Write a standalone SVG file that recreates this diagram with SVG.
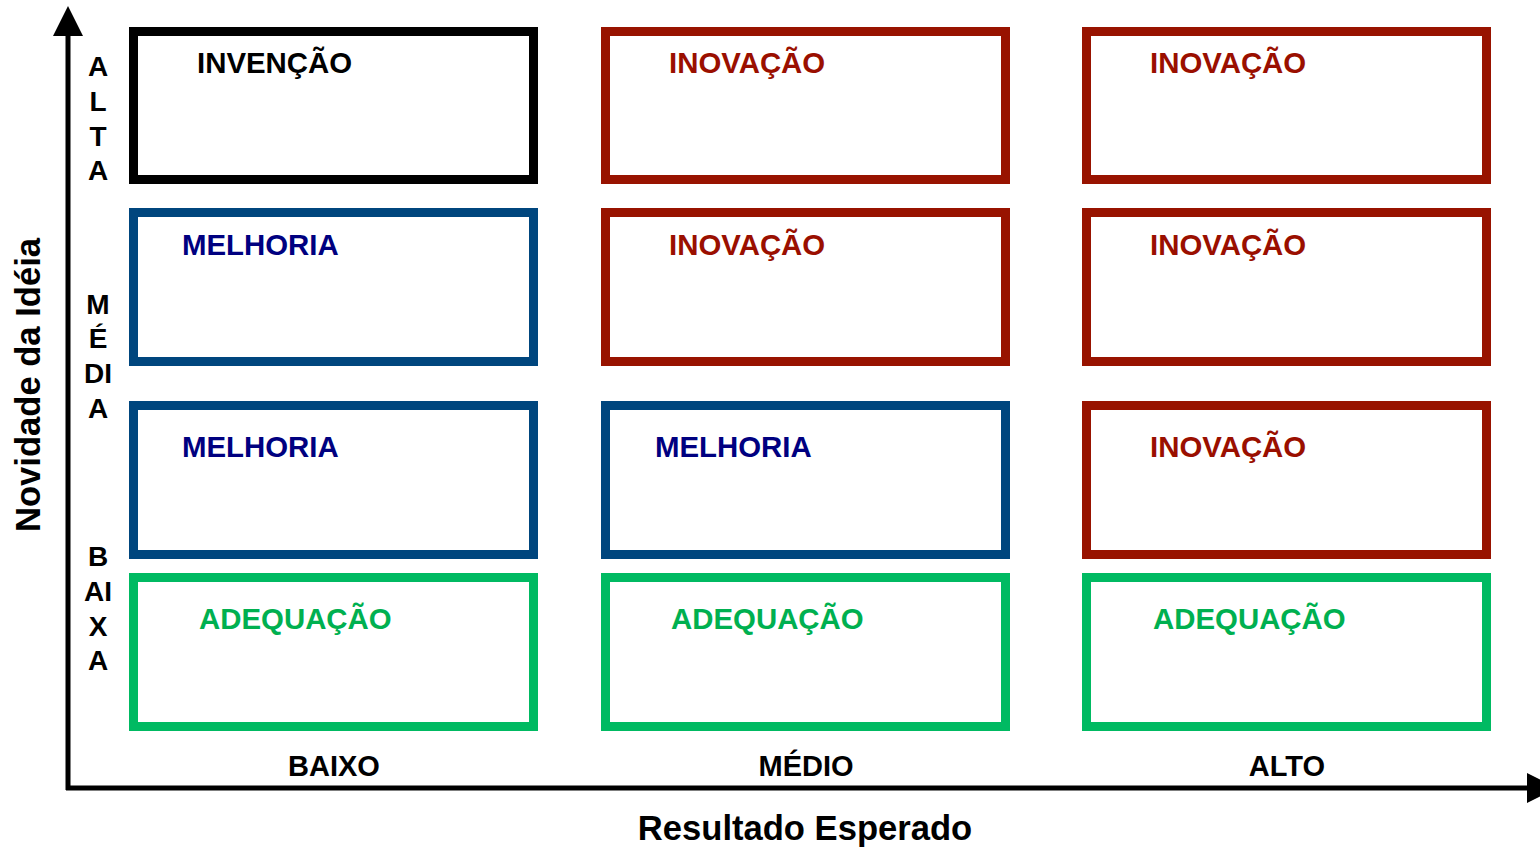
<svg xmlns="http://www.w3.org/2000/svg" width="1540" height="847" viewBox="0 0 1540 847">
<style>
text{font-family:"Liberation Sans",Arial,sans-serif;font-weight:bold}
.box{fill:#fff;stroke-width:9}
.k{stroke:#000}
.r{stroke:#981300}
.b{stroke:#00467E}
.g{stroke:#00BA62}
.lbl{font-size:29.4px}
.tk{fill:#000}
.tr{fill:#9A0F00}
.tb{fill:#000080}
.tg{fill:#00B050}
.ax{font-size:28px;text-anchor:middle;fill:#000}
.xl{font-size:29px;text-anchor:middle;fill:#000}
</style>
<defs>
<marker id="ah" markerWidth="6" markerHeight="6" refX="0" refY="3" orient="auto" markerUnits="strokeWidth">
<path d="M0,0 L6,3 L0,6 Z" fill="#000"/>
</marker>
</defs>
<g id="axes">
<line x1="68" y1="790" x2="68" y2="36" stroke="#000" stroke-width="5" marker-end="url(#ah)"/>
<line x1="66" y1="788" x2="1527" y2="788" stroke="#000" stroke-width="5" marker-end="url(#ah)"/>
</g>
<g id="n11"><rect class="box k" x="133.5" y="31.5" width="400" height="148"/><text class="lbl tk" x="197" y="73">INVENÇÃO</text></g>
<g id="n12"><rect class="box r" x="605.5" y="31.5" width="400" height="148"/><text class="lbl tr" x="669" y="73">INOVAÇÃO</text></g>
<g id="n13"><rect class="box r" x="1086.5" y="31.5" width="400" height="148"/><text class="lbl tr" x="1150" y="73">INOVAÇÃO</text></g>
<g id="n21"><rect class="box b" x="133.5" y="212.5" width="400" height="149"/><text class="lbl tb" x="182" y="255">MELHORIA</text></g>
<g id="n22"><rect class="box r" x="605.5" y="212.5" width="400" height="149"/><text class="lbl tr" x="669" y="255">INOVAÇÃO</text></g>
<g id="n23"><rect class="box r" x="1086.5" y="212.5" width="400" height="149"/><text class="lbl tr" x="1150" y="255">INOVAÇÃO</text></g>
<g id="n31"><rect class="box b" x="133.5" y="405.5" width="400" height="149"/><text class="lbl tb" x="182" y="457">MELHORIA</text></g>
<g id="n32"><rect class="box b" x="605.5" y="405.5" width="400" height="149"/><text class="lbl tb" x="655" y="457">MELHORIA</text></g>
<g id="n33"><rect class="box r" x="1086.5" y="405.5" width="400" height="149"/><text class="lbl tr" x="1150" y="457">INOVAÇÃO</text></g>
<g id="n41"><rect class="box g" x="133.5" y="577.5" width="400" height="149"/><text class="lbl tg" x="199" y="629">ADEQUAÇÃO</text></g>
<g id="n42"><rect class="box g" x="605.5" y="577.5" width="400" height="149"/><text class="lbl tg" x="671" y="629">ADEQUAÇÃO</text></g>
<g id="n43"><rect class="box g" x="1086.5" y="577.5" width="400" height="149"/><text class="lbl tg" x="1153" y="629">ADEQUAÇÃO</text></g>
<g id="ylabels">
<text class="ax" x="98" y="76">A</text>
<text class="ax" x="98" y="111">L</text>
<text class="ax" x="98" y="146">T</text>
<text class="ax" x="98" y="180">A</text>
<text class="ax" x="98" y="314">M</text>
<text class="ax" x="98" y="348">É</text>
<text class="ax" x="98" y="383">DI</text>
<text class="ax" x="98" y="418">A</text>
<text class="ax" x="98" y="566">B</text>
<text class="ax" x="98" y="601">AI</text>
<text class="ax" x="98" y="636">X</text>
<text class="ax" x="98" y="670">A</text>
</g>
<g id="xlabels">
<text class="xl" x="334" y="776">BAIXO</text>
<text class="xl" x="806" y="776">MÉDIO</text>
<text class="xl" x="1287" y="776">ALTO</text>
</g>
<text x="805" y="840" font-size="34.6" text-anchor="middle" fill="#000">Resultado Esperado</text>
<text transform="translate(40,385) rotate(-90)" font-size="34.6" text-anchor="middle" fill="#000">Novidade da Idéia</text>
</svg>
